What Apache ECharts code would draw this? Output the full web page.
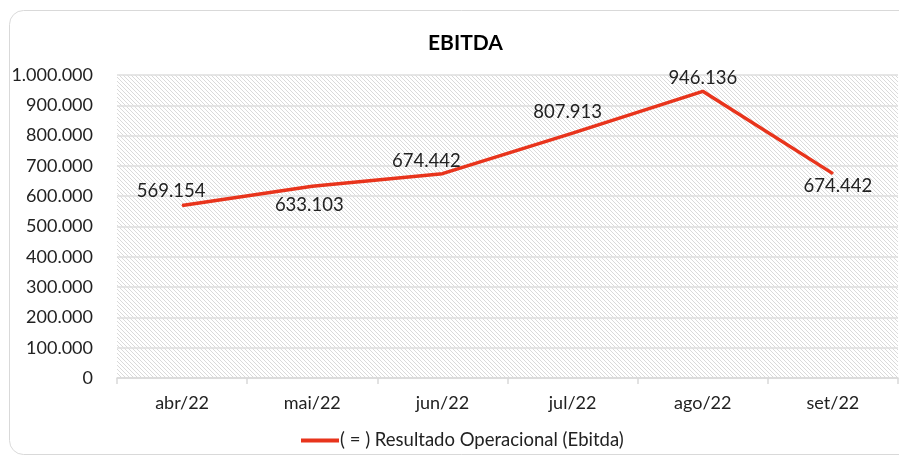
<!DOCTYPE html>
<html>
<head>
<meta charset="utf-8">
<script src="https://cdn.jsdelivr.net/npm/echarts@6/dist/echarts.min.js"></script>
<style>
  html, body { margin: 0; padding: 0; background: #fff; }
  #chart { width: 899px; height: 459px; }
</style>
</head>
<body>
<div id="chart"></div>
<script>
const categories = ['abr/22', 'mai/22', 'jun/22', 'jul/22', 'ago/22', 'set/22']
const ebitda = [569154, 633103, 674442, 807913, 946136, 674442]
// where each value label sits relative to its point
const labelPos = ['top', 'bottom', 'top', 'top', 'top', 'bottom']
const labelOffset = [[-11, 0], [-3, 4], [-16, 2], [-5, -6], [0, 2], [5, -3]]
const seriesName = '( = ) Resultado Operacional (Ebitda)'

const fmt = (v) => String(Math.round(v)).replace(/\B(?=(\d{3})+(?!\d))/g, '.')

// diagonal hatch for the plot background
const hatch = document.createElement('canvas')
hatch.width = 4
hatch.height = 4
const hctx = hatch.getContext('2d')
hctx.fillStyle = '#ffffff'
hctx.fillRect(0, 0, 4, 4)
hctx.fillStyle = '#dadada'
for (let i = 0; i < 4; i++) hctx.fillRect(i, i, 1, 1)

const font = 'Lato, "Open Sans", sans-serif'
const chart = echarts.init(document.getElementById('chart'))

chart.setOption({
  animation: false,
  title: {
    text: 'EBITDA',
    left: 423,
    top: 28,
    textStyle: { fontFamily: font, fontSize: 21, fontWeight: 'bold', color: '#000' },
  },
  graphic: [{
    type: 'rect',
    shape: { x: 9.5, y: 10.5, width: 905, height: 444, r: 14 },
    style: { fill: 'none', stroke: '#d9d9d9', lineWidth: 1 },
    silent: true,
  }],
  legend: {
    data: [{ name: seriesName, icon: 'rect' }],
    left: 296,
    top: 426,
    itemWidth: 38,
    itemHeight: 4,
    itemGap: 0,
    textStyle: { fontFamily: font, fontSize: 18.5, color: '#222', padding: [0, 0, 0, -4] },
  },
  grid: {
    left: 117,
    right: 1,
    top: 75,
    bottom: 81,
    show: true,
    borderWidth: 0,
    backgroundColor: { image: hatch, repeat: 'repeat' },
  },
  xAxis: {
    type: 'category',
    data: categories,
    boundaryGap: true,
    axisLine: { lineStyle: { color: '#d9d9d9', width: 1.5 } },
    axisTick: { show: true, length: 6, lineStyle: { color: '#d9d9d9', width: 1.5 } },
    axisLabel: { fontFamily: font, fontSize: 18, color: '#222', margin: 16 },
  },
  yAxis: {
    type: 'value',
    min: 0,
    max: 1000000,
    interval: 100000,
    axisLine: { show: false },
    axisTick: { show: false },
    axisLabel: { fontFamily: font, fontSize: 18, color: '#222', margin: 24, formatter: fmt },
    splitLine: { lineStyle: { color: '#dedede', width: 1.5 } },
  },
  series: [{
    name: seriesName,
    type: 'line',
    symbol: 'circle',
    symbolSize: 1,
    showSymbol: true,
    color: '#e8341c',
    itemStyle: { color: '#e8341c' },
    lineStyle: { width: 3.5, color: '#e8341c' },
    data: ebitda.map((v, i) => ({
      value: v,
      label: { show: true, position: labelPos[i], offset: labelOffset[i] },
    })),
    label: {
      show: true,
      fontFamily: font,
      fontSize: 18.5,
      color: '#222',
      formatter: (p) => fmt(p.value),
    },
  }],
})
</script>
</body>
</html>
